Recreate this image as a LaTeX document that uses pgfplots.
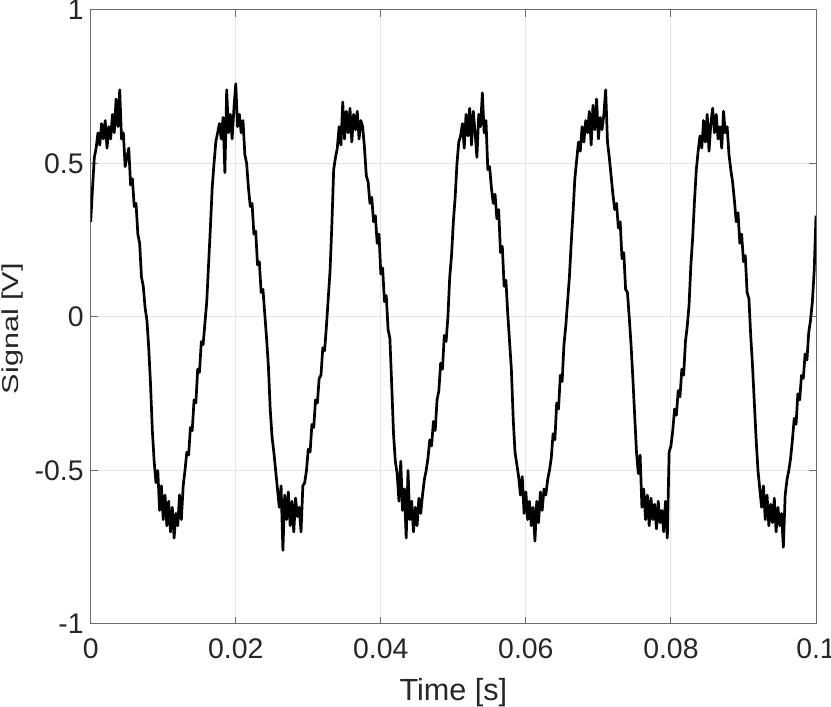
\documentclass[border=0pt]{standalone}
\usepackage{fontspec}
\setmainfont{Liberation Sans}
\usepackage{graphicx}
\usepackage{pgfplots}
\pgfplotsset{compat=1.18}
\usepackage{pgfplotstable}
\definecolor{axcol}{gray}{0.42}
\definecolor{txtcol}{gray}{0.15}
\definecolor{gridcol}{gray}{0.9}

\pgfplotstableread{
t y
0 0.31
0.25 0.42
0.5 0.52
0.75 0.55
1 0.60
1.25 0.56
1.5 0.63
1.75 0.58
2 0.64
2.25 0.55
2.5 0.62
2.75 0.58
3 0.66
3.25 0.60
3.5 0.71
3.75 0.62
4 0.74
4.25 0.58
4.5 0.60
4.75 0.49
5 0.52
5.25 0.55
5.5 0.43
5.75 0.45
6 0.36
6.25 0.37
6.5 0.27
6.75 0.24
7 0.13
7.25 0.10
7.5 0.03
7.75 -0.01
8 -0.10
8.25 -0.22
8.5 -0.37
8.75 -0.47
9 -0.54
9.25 -0.50
9.5 -0.63
9.75 -0.55
10 -0.66
10.25 -0.58
10.5 -0.68
10.75 -0.60
11 -0.70
11.25 -0.62
11.5 -0.72
11.75 -0.64
12 -0.68
12.25 -0.58
12.5 -0.66
12.75 -0.55
13 -0.50
13.25 -0.44
13.5 -0.45
13.75 -0.36
14 -0.37
14.25 -0.27
14.5 -0.28
14.75 -0.17
15 -0.18
15.25 -0.08
15.5 -0.09
15.75 -0.02
16 0.05
16.25 0.17
16.5 0.29
16.75 0.42
17 0.50
17.25 0.57
17.5 0.60
17.75 0.63
18 0.58
18.25 0.65
18.5 0.47
18.75 0.74
19 0.60
19.25 0.66
19.5 0.58
19.75 0.68
20 0.76
20.25 0.62
20.5 0.66
20.75 0.60
21 0.64
21.25 0.53
21.5 0.50
21.75 0.42
22 0.36
22.25 0.37
22.5 0.27
22.75 0.28
23 0.17
23.25 0.18
23.5 0.08
23.75 0.09
24 0.01
24.25 -0.07
24.5 -0.16
24.75 -0.30
25 -0.39
25.25 -0.44
25.5 -0.50
25.75 -0.56
26 -0.62
26.25 -0.55
26.5 -0.76
26.75 -0.58
27 -0.66
27.25 -0.57
27.5 -0.68
27.75 -0.60
28 -0.70
28.25 -0.59
28.5 -0.65
28.75 -0.62
29 -0.70
29.25 -0.55
29.5 -0.54
29.75 -0.50
30 -0.43
30.25 -0.44
30.5 -0.35
30.75 -0.36
31 -0.27
31.25 -0.28
31.5 -0.20
31.75 -0.19
32 -0.10
32.25 -0.11
32.5 -0.03
32.75 0.06
33 0.15
33.25 0.30
33.5 0.48
33.75 0.52
34 0.55
34.25 0.62
34.5 0.56
34.75 0.70
35 0.58
35.25 0.67
35.5 0.60
35.75 0.68
36 0.57
36.25 0.66
36.5 0.61
36.75 0.67
37 0.58
37.25 0.64
37.5 0.62
37.75 0.55
38 0.46
38.25 0.44
38.5 0.37
38.75 0.39
39 0.31
39.25 0.33
39.5 0.24
39.75 0.27
40 0.14
40.25 0.16
40.5 0.05
40.75 0.07
41 -0.04
41.25 -0.07
41.5 -0.22
41.75 -0.38
42 -0.47
42.25 -0.51
42.5 -0.60
42.75 -0.47
43 -0.63
43.25 -0.56
43.5 -0.72
43.75 -0.50
44 -0.66
44.25 -0.60
44.5 -0.70
44.75 -0.62
45 -0.68
45.25 -0.59
45.5 -0.64
45.75 -0.58
46 -0.53
46.25 -0.50
46.5 -0.46
46.75 -0.40
47 -0.42
47.25 -0.34
47.5 -0.37
47.75 -0.27
48 -0.24
48.25 -0.15
48.5 -0.17
48.75 -0.06
49 -0.08
49.25 0.00
49.5 0.13
49.75 0.20
50 0.31
50.25 0.39
50.5 0.50
50.75 0.57
51 0.59
51.25 0.63
51.5 0.55
51.75 0.66
52 0.59
52.25 0.68
52.5 0.56
52.75 0.67
53 0.60
53.25 0.52
53.5 0.66
53.75 0.62
54 0.73
54.25 0.60
54.5 0.64
54.75 0.48
55 0.49
55.25 0.42
55.5 0.37
55.75 0.40
56 0.32
56.25 0.35
56.5 0.21
56.75 0.23
57 0.10
57.25 0.12
57.5 0.01
57.75 -0.08
58 -0.17
58.25 -0.33
58.5 -0.44
58.75 -0.48
59 -0.52
59.25 -0.58
59.5 -0.52
59.75 -0.64
60 -0.57
60.25 -0.66
60.5 -0.60
60.75 -0.68
61 -0.62
61.25 -0.73
61.5 -0.60
61.75 -0.67
62 -0.57
62.25 -0.63
62.5 -0.56
62.75 -0.58
63 -0.53
63.25 -0.50
63.5 -0.46
63.75 -0.38
64 -0.40
64.25 -0.28
64.5 -0.30
64.75 -0.19
65 -0.21
65.25 -0.09
65.5 -0.03
65.75 0.05
66 0.13
66.25 0.24
66.5 0.34
66.75 0.45
67 0.51
67.25 0.57
67.5 0.54
67.75 0.62
68 0.57
68.25 0.64
68.5 0.60
68.75 0.67
69 0.56
69.25 0.69
69.5 0.61
69.75 0.71
70 0.58
70.25 0.65
70.5 0.61
70.75 0.66
71 0.74
71.25 0.57
71.5 0.52
71.75 0.46
72 0.40
72.25 0.35
72.5 0.37
72.75 0.29
73 0.31
73.25 0.19
73.5 0.21
73.75 0.09
74 0.08
74.25 0.00
74.5 -0.09
74.75 -0.20
75 -0.32
75.25 -0.44
75.5 -0.51
75.75 -0.45
76 -0.62
76.25 -0.56
76.5 -0.66
76.75 -0.58
77 -0.68
77.25 -0.59
77.5 -0.66
77.75 -0.61
78 -0.69
78.25 -0.60
78.5 -0.67
78.75 -0.63
79 -0.70
79.25 -0.60
79.5 -0.72
79.75 -0.44
80 -0.42
80.25 -0.37
80.5 -0.30
80.75 -0.32
81 -0.24
81.25 -0.26
81.5 -0.17
81.75 -0.19
82 -0.08
82.25 -0.03
82.5 0.04
82.75 0.17
83 0.26
83.25 0.38
83.5 0.48
83.75 0.54
84 0.59
84.25 0.55
84.5 0.64
84.75 0.57
85 0.66
85.25 0.54
85.5 0.63
85.75 0.68
86 0.60
86.25 0.66
86.5 0.58
86.75 0.62
87 0.55
87.25 0.67
87.5 0.60
87.75 0.62
88 0.53
88.25 0.48
88.5 0.44
88.75 0.38
89 0.31
89.25 0.34
89.5 0.24
89.75 0.27
90 0.18
90.25 0.20
90.5 0.08
90.75 0.06
91 -0.06
91.25 -0.16
91.5 -0.28
91.75 -0.40
92 -0.50
92.25 -0.56
92.5 -0.62
92.75 -0.55
93 -0.66
93.25 -0.58
93.5 -0.68
93.75 -0.61
94 -0.67
94.25 -0.59
94.5 -0.70
94.75 -0.62
95 -0.68
95.25 -0.64
95.5 -0.75
95.75 -0.58
96 -0.53
96.25 -0.50
96.5 -0.46
96.75 -0.40
97 -0.33
97.25 -0.35
97.5 -0.25
97.75 -0.27
98 -0.19
98.25 -0.20
98.5 -0.12
98.75 -0.14
99 -0.05
99.25 -0.01
99.5 0.05
99.75 0.15
100 0.33
}\signal

\begin{document}
\begin{tikzpicture}
\useasboundingbox (-45.35pt,-41.5pt) rectangle (370.15pt,312pt);
\begin{axis}[
  at={(0pt,0pt)}, anchor=south west,
  scale only axis, width=362.65pt, height=307pt,
  xmin=0, xmax=100, ymin=-1, ymax=1,
  xtick={0,20,40,60,80,100}, xticklabels={0,0.02,0.04,0.06,0.08,0.1},
  ytick={-1,-0.5,0,0.5,1}, yticklabels={-1,-0.5,0,0.5,1},
  tick align=inside, major tick length=3.6pt,
  tick style={axcol, line width=0.5pt},
  axis line style={axcol, line width=0.5pt},
  grid=major, major grid style={gridcol, line width=0.5pt},
  ticklabel style={font=\fontsize{14.2}{17}\selectfont, text=txtcol},
  xticklabel style={yshift=-3.8pt},
  label style={font=\fontsize{15.3}{18}\selectfont, text=txtcol},
  xlabel={Time [s]}, ylabel={\scalebox{1}[0.75]{Signal [V]}},
  xlabel style={at={(axis description cs:0.5,-0.111)}, anchor=center},
  ylabel style={at={(axis description cs:-0.1078,0.481)}, anchor=center},
]
\addplot[black, line width=1.35pt, line join=round] table[x=t,y=y]{\signal};
\end{axis}
\end{tikzpicture}
\end{document}
